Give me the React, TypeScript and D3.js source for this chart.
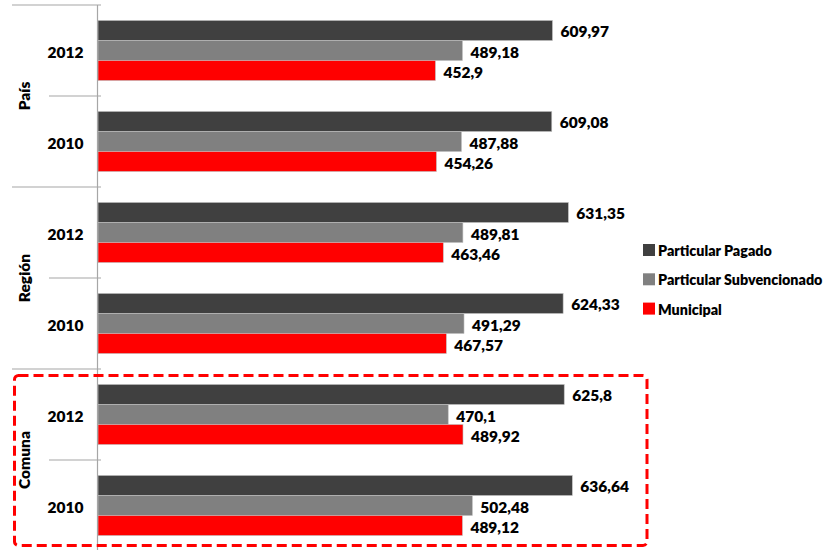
import React from "react";
import * as d3 from "d3";

const categories = ["País 2012", "País 2010", "Región 2012", "Región 2010", "Comuna 2012", "Comuna 2010"];
const groups = ["País", "Región", "Comuna"];
const years = ["2012", "2010", "2012", "2010", "2012", "2010"];
const seriesNames = ["Particular Pagado", "Particular Subvencionado", "Municipal"];
const pagado = [609.97, 609.08, 631.35, 624.33, 625.8, 636.64];
const subvencionado = [489.18, 487.88, 489.81, 491.29, 470.1, 502.48];
const municipal = [452.9, 454.26, 463.46, 467.57, 489.92, 489.12];
const seriesValues = [pagado, subvencionado, municipal];
const colors = ["#404040", "#808080", "#ff0000"];

const W = 829;
const H = 550;
const FONT = "Lato, 'Open Sans', sans-serif";

const fmt = (v: number) => String(v).replace(".", ",");

export default function App() {
  const x = d3.scaleLinear().domain([0, 700]).range([98, 619.5]);
  const y = d3.scaleBand<string>().domain(categories).range([5, 551]).paddingInner(0).paddingOuter(0);
  const bw = y.bandwidth();
  const sub = d3.scaleBand<string>().domain(seriesNames).range([bw * 0.17, bw * 0.83]);
  const groupBand = d3.scaleBand<string>().domain(groups).range([5, 551]);

  return (
    <svg width={W} height={H} style={{ position: "absolute", left: 0, top: 0, background: "#fff" }} fontFamily={FONT}>
      <rect x={0} y={0} width={W} height={H} fill="#fff" />
      {seriesNames.map((s, si) =>
        categories.map((c, ci) => {
          const v = seriesValues[si][ci];
          const y0 = (y(c) as number) + (sub(s) as number);
          return (
            <g key={s + c}>
              <rect x={x(0)} y={y0} width={x(v) - x(0)} height={sub.bandwidth()} fill={colors[si]} stroke="#bfbfbf" strokeWidth={0.6} />
              <text x={x(v) + 8} y={y0 + sub.bandwidth() / 2 + 1} dominantBaseline="central" fontSize={15.5} fontWeight={800} fill="#000">
                {fmt(v)}
              </text>
            </g>
          );
        })
      )}
      {/* axis */}
      <line x1={97.5} x2={97.5} y1={5} y2={551} stroke="#a6a6a6" strokeWidth={1.2} />
      {groups.map((g) => {
        const gy = groupBand(g) as number;
        return (
          <g key={g}>
            <line x1={12} x2={101} y1={gy} y2={gy} stroke="#a6a6a6" strokeWidth={1.2} />
            <line x1={49} x2={101} y1={gy + groupBand.bandwidth() / 2} y2={gy + groupBand.bandwidth() / 2} stroke="#a6a6a6" strokeWidth={1.2} />
            <text
              transform={`translate(24,${gy + groupBand.bandwidth() / 2}) rotate(-90)`}
              textAnchor="middle"
              dominantBaseline="central"
              fontSize={15.5}
              fontWeight={800}
            >
              {g}
            </text>
          </g>
        );
      })}
      <line x1={12} x2={101} y1={551} y2={551} stroke="#a6a6a6" strokeWidth={1.2} />
      {categories.map((c, ci) => (
        <text key={c} x={65.5} y={(y(c) as number) + bw / 2 + 1} textAnchor="middle" dominantBaseline="central" fontSize={15.5} fontWeight={800}>
          {years[ci]}
        </text>
      ))}
      {/* legend */}
      {seriesNames.map((s, si) => (
        <g key={s} transform={`translate(643,${250 + si * 29.3})`}>
          <rect x={0} y={-6} width={12} height={12} fill={colors[si]} />
          <text x={15} y={0.5} dominantBaseline="central" fontSize={14.3} fontWeight={800}>
            {s}
          </text>
        </g>
      ))}
      {/* highlight box */}
      <rect x={14.5} y={375.5} width={632.5} height={170} rx={4} fill="none" stroke="#ff0000" strokeWidth={3} strokeDasharray="10 5" />
    </svg>
  );
}
